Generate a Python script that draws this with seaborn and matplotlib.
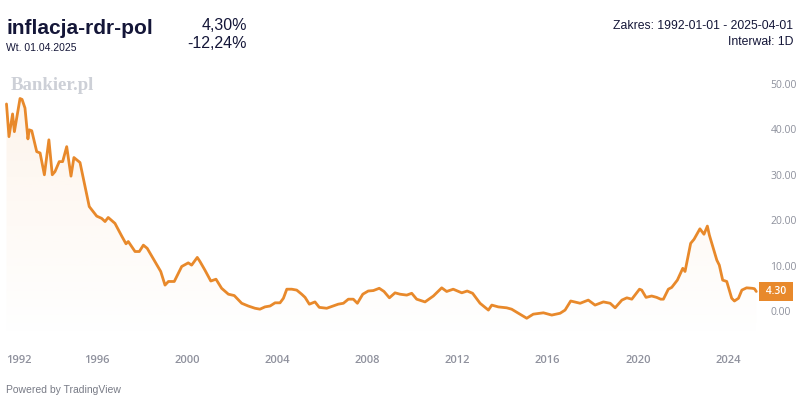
import seaborn as sns
import matplotlib.pyplot as plt
import matplotlib.colors as mcolors
import matplotlib.transforms as mtransforms
import numpy as np
import pandas as pd

# inflacja r/r (CPI) w Polsce, odczyt z wykresu
years = [1992.00, 1992.11, 1992.27, 1992.35, 1992.60, 1992.69, 1992.82, 1992.95,
         1993.01, 1993.12, 1993.34, 1993.49, 1993.68, 1993.88, 1994.03, 1994.15,
         1994.34, 1994.49, 1994.67, 1994.86, 1994.99, 1995.26, 1995.67, 1996.00,
         1996.22, 1996.37, 1996.51, 1996.81, 1997.11, 1997.30, 1997.40, 1997.70,
         1997.89, 1998.07, 1998.24, 1998.84, 1999.03, 1999.18, 1999.44, 1999.77,
         2000.06, 2000.21, 2000.46, 2000.58, 2000.80, 2001.06, 2001.29, 2001.54,
         2001.84, 2002.10, 2002.43, 2002.72, 2003.02, 2003.24, 2003.46, 2003.69,
         2003.91, 2004.13, 2004.28, 2004.43, 2004.65, 2004.87, 2005.09, 2005.24,
         2005.43, 2005.68, 2005.87, 2006.20, 2006.49, 2006.71, 2006.94, 2007.16,
         2007.38, 2007.56, 2007.80, 2008.04, 2008.27, 2008.53, 2008.74, 2008.98,
         2009.23, 2009.45, 2009.75, 2009.97, 2010.19, 2010.56, 2010.93, 2011.30,
         2011.52, 2011.81, 2012.19, 2012.43, 2012.67, 2013.00, 2013.37, 2013.52,
         2013.81, 2014.18, 2014.40, 2014.77, 2015.07, 2015.36, 2015.81, 2016.18,
         2016.55, 2016.77, 2017.02, 2017.44, 2017.80, 2018.10, 2018.47, 2018.77,
         2018.99, 2019.29, 2019.51, 2019.73, 2020.07, 2020.17, 2020.36, 2020.61,
         2020.83, 2021.01, 2021.13, 2021.35, 2021.50, 2021.75, 2021.99, 2022.09,
         2022.34, 2022.49, 2022.75, 2022.93, 2023.08, 2023.17, 2023.50, 2023.61,
         2023.76, 2023.94, 2024.16, 2024.28, 2024.46, 2024.61, 2024.82, 2025.07,
         2025.17, 2025.25]
values = [45.6, 38.4, 43.4, 39.5, 46.8, 46.6, 44.7, 37.9,
          39.9, 39.7, 35.1, 34.8, 30.0, 37.7, 30.0, 30.7,
          32.9, 32.9, 36.2, 29.7, 33.8, 32.7, 23.0, 20.9,
          20.4, 19.7, 20.6, 19.3, 16.5, 14.8, 15.3, 13.1,
          13.1, 14.5, 13.8, 8.7, 5.7, 6.5, 6.5, 9.8,
          10.6, 10.1, 11.8, 10.9, 9.0, 6.6, 7.0, 5.0,
          3.7, 3.4, 1.7, 1.1, 0.6, 0.4, 0.9, 1.1,
          1.8, 1.8, 2.8, 4.8, 4.8, 4.6, 3.7, 3.0,
          1.5, 2.0, 0.8, 0.6, 1.1, 1.5, 1.7, 2.6,
          2.6, 1.7, 3.7, 4.4, 4.5, 5.0, 4.3, 2.9,
          4.0, 3.7, 3.5, 3.9, 2.6, 2.0, 3.3, 5.1,
          4.3, 4.8, 4.0, 4.4, 3.9, 1.7, 0.2, 1.3,
          0.9, 0.7, 0.4, -0.7, -1.6, -0.7, -0.4, -0.9,
          -0.5, 0.2, 2.2, 1.7, 2.4, 1.3, 2.0, 1.7,
          0.7, 2.4, 2.9, 2.6, 4.8, 4.6, 3.0, 3.3,
          3.0, 2.6, 2.6, 4.8, 5.2, 6.8, 9.4, 8.7,
          14.9, 15.8, 18.1, 16.9, 18.7, 16.7, 11.2, 10.1,
          6.8, 6.5, 2.8, 2.2, 2.8, 4.6, 5.1, 5.0,
          4.9, 4.3]
last_value = 4.30
x_ticks = [1992, 1996, 2000, 2004, 2008, 2012, 2016, 2020, 2024]
y_ticks = [0, 10, 20, 30, 40, 50]

W, H = 800, 396
ORANGE = '#e8892b'
NAVY = '#141638'

sns.set_style('white')
plt.rcParams['font.family'] = ['Liberation Sans', 'DejaVu Sans']

df = pd.DataFrame({'rok': years, 'inflacja': values})

fig = plt.figure(figsize=(W / 100, H / 100), dpi=100)
ax = fig.add_axes([0, 56 / H, 758 / W, 270 / H])

xmin, xmax = 1991.712, 2025.326
ymin, ymax = -6.39, 53.08

sns.lineplot(data=df, x='rok', y='inflacja', ax=ax, color=ORANGE,
             linewidth=2, zorder=3)

# gradient fill under the line
poly = ax.fill_between(df['rok'], df['inflacja'], ymin, color='none')
grad = np.zeros((200, 1, 4))
grad[..., :3] = mcolors.to_rgb('#f2a255')
grad[..., 3] = np.linspace(0.13, 0.0, 200)[:, None]
im = ax.imshow(grad, aspect='auto', extent=[xmin, xmax, ymin, ymax],
               origin='upper', zorder=1)
im.set_clip_path(poly.get_paths()[0], transform=ax.transData)

ax.set_xlim(xmin, xmax)
ax.set_ylim(ymin, ymax)
ax.set_xlabel('')
ax.set_ylabel('')
sns.despine(ax=ax, left=True, bottom=True, right=True, top=True)

ax.set_xticks(x_ticks)
ax.set_xticklabels([str(t) for t in x_ticks])
ax.tick_params(axis='x', length=0, pad=11, labelsize=8, labelcolor='#8f919d')
for lab in ax.get_xticklabels():
    lab.set_fontfamily('Open Sans')
    lab.set_fontweight('semibold')
ax.get_xticklabels()[0].set_ha('left')

ax.yaxis.tick_right()
ax.set_yticks(y_ticks)
ax.set_yticklabels([f'{t:.2f}' for t in y_ticks])
ax.tick_params(axis='y', length=0, pad=9, labelsize=7.5, labelcolor='#8d909c')
for lab in ax.get_yticklabels():
    lab.set_fontfamily('Open Sans')

# last value box
trans = mtransforms.blended_transform_factory(ax.transAxes, ax.transData)
ax.text(1 + 18 / 758, last_value, f' {last_value:.2f} ', transform=trans,
        ha='center', va='center', color='white', fontsize=7.5,
        family='Open Sans', fontweight='semibold', clip_on=False,
        bbox=dict(boxstyle='square,pad=0.35', fc=ORANGE, ec='none'))

# header
def ftxt(x, y, s, **kw):
    fig.text(x / W, 1 - y / H, s, va='baseline', **kw)

ftxt(6, 34, 'inflacja-rdr-pol', fontsize=15, fontweight='bold', color=NAVY)
ftxt(6, 51, 'Wt. 01.04.2025', fontsize=7.5, color=NAVY)
ftxt(247, 29.5, '4,30%', ha='right', fontsize=11.5, color=NAVY)
ftxt(247, 47.5, '-12,24%', ha='right', fontsize=11.5, color=NAVY)
ftxt(793, 29, 'Zakres: 1992-01-01 - 2025-04-01', ha='right', fontsize=8.8,
     color=NAVY)
ftxt(793, 45, 'Interwał: 1D', ha='right', fontsize=8.8, color=NAVY)
ftxt(11, 90, 'Bankier.pl', fontsize=13.5, fontweight='bold',
     family='Liberation Serif', color='#cdd0d7')
ftxt(6, 393, 'Powered by TradingView', fontsize=7.5, color='#787b86')

fig.savefig('out.png', dpi=100)
